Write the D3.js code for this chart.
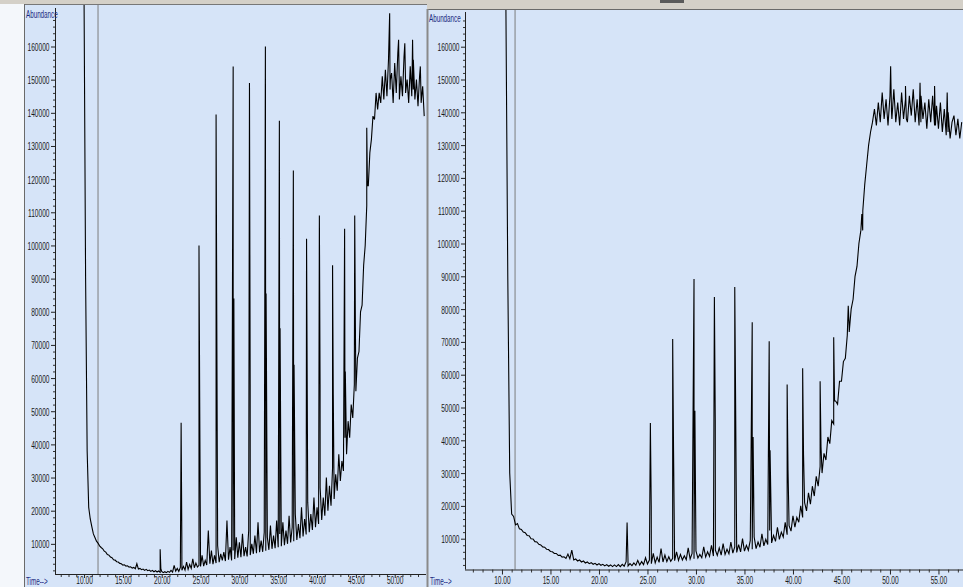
<!DOCTYPE html>
<html><head><meta charset="utf-8">
<script src="https://cdn.jsdelivr.net/npm/d3@7"></script>
<style>html,body{margin:0;padding:0;background:#f4f7fb;overflow:hidden}</style>
</head><body><svg id="c" width="963" height="587"></svg>
<script>
// ---------- DATA (abundance in thousands, time in minutes) ----------
const sampleStep = 0.2;
const leftStart = 10.0;
const leftValues = [
 175, 90, 38, 21, 17.5, 15.2, 13.0, 11.9, 10.8, 10.2,
 9.4, 8.9, 8.5, 7.8, 7.5, 6.8, 6.6, 6.0, 5.8, 5.2,
 5.1, 4.6, 4.5, 4.1, 4.0, 3.6, 3.7, 3.3, 3.4, 3.0,
 3.1, 2.7, 2.9, 2.5, 4.0, 2.4, 2.6, 2.2, 2.4, 2.0,
 2.3, 1.9, 2.1, 1.7, 2.0, 1.6, 1.9, 1.5, 1.8, 1.4,
 1.7, 1.3, 1.6, 1.3, 1.7, 1.4, 2.0, 1.5, 3.5, 1.8,
 2.6, 1.7, 2.9, 2.0, 3.2, 2.1, 4.5, 2.3, 3.8, 2.6,
 5.5, 2.8, 4.2, 3.0, 3.5, 3.2, 6.5, 3.3, 5.0, 3.6,
 14.0, 4.0, 8.0, 3.9, 6.5, 4.2, 9.5, 4.5, 7.0, 5.0,
 7.5, 4.8, 17.0, 5.2, 9.0, 5.0, 8.0, 5.4, 12.0, 5.8,
 10.5, 6.0, 13.0, 6.3, 9.0, 6.2, 14.0, 6.6, 10.0, 7.0,
 12.5, 7.2, 16.5, 7.5, 11.0, 7.6, 13.5, 7.9, 12.0, 8.2,
 15.5, 8.5, 12.5, 8.7, 17.0, 9.0, 13.0, 9.3, 16.5, 9.6,
 14.0, 10.0, 18.5, 10.4, 15.0, 10.8, 19.0, 11.2, 16.0, 11.7,
 21.0, 12.2, 17.5, 12.8, 22.5, 13.5, 19.0, 14.2, 24.0, 15.0,
 21.0, 16.0, 27.0, 17.2, 24.0, 18.5, 30.0, 20.0, 27.5, 21.5,
 33.0, 23.5, 31.0, 26.0, 37.0, 29.0, 35.0, 32.0, 42.0, 37.0,
 47.0, 42.0, 52.0, 48.0, 58.0, 56.0, 66.0, 68.0, 80.0, 82.0,
 94, 100, 112, 118, 128, 132, 139, 138, 146, 141,
 146, 143, 151, 144, 153, 145, 156, 147, 152, 143,
 155, 146, 158, 144, 151, 145, 157, 146, 150, 143,
 154, 145, 156, 144, 150, 142, 151, 143, 148, 139
];
// [time, apex, neighbour sample]
const leftPeaks = [
 [19.8, 8.4, 2.5], [22.5, 46.5, 12], [24.8, 100, 54], [27.0, 139.5, 79],
 [29.2, 154, 84], [31.3, 149, 58], [33.35, 160, 85.5], [35.15, 137.6, 75],
 [36.95, 122.6, 64], [38.65, 102, 55], [40.3, 109, 58], [42.0, 94, 55],
 [43.55, 105, 62], [44.85, 109, 75], [46.4, 135.5, 118],
 [49.35, 170, 150], [50.5, 162, 148], [51.3, 161, 150], [52.3, 162, 147], [53.3, 154, 145]
];
const leftCursor = [11.8];

const rightStart = 10.4;
const rightValues = [
 175, 90, 30, 17.5, 16.8, 14.2, 14.6, 13.0, 12.8, 12.0,
 11.8, 11.0, 10.9, 10.0, 9.9, 9.1, 9.0, 8.3, 8.1, 7.5,
 7.4, 6.8, 6.7, 6.1, 6.0, 5.5, 5.5, 4.9, 5.0, 4.4,
 4.5, 4.0, 5.3, 3.9, 6.5, 3.5, 3.8, 3.2, 3.5, 2.9,
 3.2, 2.6, 2.9, 2.4, 2.7, 2.2, 2.5, 2.0, 2.4, 1.9,
 2.2, 1.7, 2.1, 1.6, 2.0, 1.5, 2.0, 1.5, 2.1, 1.5,
 2.2, 1.6, 3.0, 1.7, 2.4, 1.8, 2.6, 1.9, 3.4, 2.0,
 3.0, 2.1, 4.2, 2.3, 3.5, 2.4, 5.5, 2.6, 4.4, 2.8,
 7.0, 2.9, 5.0, 3.0, 4.5, 3.1, 4.0, 3.3, 6.0, 3.4,
 5.2, 3.5, 4.8, 3.6, 7.2, 3.8, 5.5, 3.9, 6.3, 4.1,
 5.2, 4.2, 7.5, 4.4, 6.0, 4.6, 8.0, 4.7, 6.5, 4.9,
 7.2, 5.0, 8.5, 5.2, 6.8, 5.4, 9.0, 5.6, 7.5, 5.8,
 8.2, 6.0, 10.0, 6.2, 8.0, 6.5, 9.5, 6.8, 10.5, 7.0,
 9.0, 7.4, 11.5, 7.8, 9.8, 8.2, 12.5, 8.7, 11.0, 9.2,
 13.5, 9.8, 12.0, 10.5, 15.0, 11.2, 14.0, 12.3, 17.0, 13.5,
 16.5, 15.0, 20.0, 16.5, 21.0, 18.5, 24.0, 20.5, 26.0, 23.0,
 29.0, 26.0, 32.0, 30.0, 36.0, 34.0, 41.0, 39.0, 46.0, 45.0,
 52, 51, 58, 58, 64, 65, 72, 73, 80, 83,
 90, 93, 100, 104, 110, 118, 124, 130, 134, 137,
 141, 136, 143, 137, 146, 138, 144, 136, 145, 138,
 147, 137, 143, 136, 146, 138, 144, 137, 145, 139,
 147, 137, 144, 136, 145, 138, 143, 135, 144, 137,
 145, 136, 142, 135, 143, 134, 141, 133, 140, 132,
 137, 139, 133, 138, 132, 137
];
const rightPeaks = [
 [22.9, 14.9, 4], [25.3, 45.3, 20], [27.6, 70.9, 37], [29.8, 89.2, 49],
 [31.9, 83.7, 46], [34.0, 86.7, 51], [35.8, 76, 41], [37.55, 70.2, 37],
 [39.4, 57, 31], [41.0, 62, 35.5], [42.8, 58, 38], [44.2, 71.4, 52],
 [45.7, 81, 75], [47.1, 109, 104],
 [50.07, 154, 140], [51.6, 148, 138], [53.1, 149, 137], [54.6, 148, 136], [55.9, 146, 134]
];
const rightCursor = [11.35];

const leftTimeTicks = [10, 15, 20, 25, 30, 35, 40, 45, 50];
const rightTimeTicks = [10, 15, 20, 25, 30, 35, 40, 45, 50, 55];
const abundanceTicks = [10, 20, 30, 40, 50, 60, 70, 80, 90, 100, 110, 120, 130, 140, 150, 160];

// ---------- LAYOUT ----------
const svg = d3.select('#c');
const BG = '#d6e4f8';
const FONT = '"Liberation Sans", Arial, sans-serif';

svg.append('rect').attr('x',0).attr('y',0).attr('width',963).attr('height',587).attr('fill','#f4f7fb');
svg.append('rect').attr('x',0).attr('y',0).attr('width',963).attr('height',4).attr('fill','#d4d0c8');
svg.append('rect').attr('x',24).attr('y',4).attr('width',403).attr('height',583).attr('fill',BG);
svg.append('rect').attr('x',427).attr('y',0).attr('width',536).attr('height',9).attr('fill','#d4d0c8');
svg.append('rect').attr('x',427).attr('y',10).attr('width',536).attr('height',577).attr('fill',BG);
svg.append('line').attr('x1',24).attr('x2',427).attr('y1',4.5).attr('y2',4.5).attr('stroke','#777');
svg.append('line').attr('x1',24.5).attr('x2',24.5).attr('y1',4).attr('y2',587).attr('stroke','#6a6a6a');
svg.append('line').attr('x1',427).attr('x2',963).attr('y1',9.5).attr('y2',9.5).attr('stroke','#6a6a6a');
svg.append('line').attr('x1',427.5).attr('x2',427.5).attr('y1',9).attr('y2',587).attr('stroke','#8a8a8a').attr('stroke-width',2);
svg.append('rect').attr('x',660).attr('y',0).attr('width',24).attr('height',3).attr('fill','#5a5a5a');

function panel(cfg){
  const g = svg.append('g');
  const x = d3.scaleLinear().domain(cfg.tDomain).range([cfg.left, cfg.right]);
  const y = d3.scaleLinear().domain([0,160]).range([cfg.yZero, cfg.y160]);
  const id = 'clip'+cfg.name;
  svg.append('clipPath').attr('id',id).append('rect')
     .attr('x',cfg.left+0.5).attr('y',cfg.top).attr('width',cfg.right-cfg.left).attr('height',cfg.axisY-cfg.top-0.5);

  g.selectAll('.cur').data(cfg.cursor).join('line')
    .attr('x1',d=>x(d)).attr('x2',d=>x(d)).attr('y1',cfg.top).attr('y2',cfg.axisY)
    .attr('stroke','#7d7d7d').attr('stroke-width',1);

  const pts = cfg.values.map((v,i)=>({t: cfg.start + i*sampleStep, v}));
  cfg.peaks.forEach(p=>{ pts.push({t:p[0], v:p[1]}); pts.push({t:p[0]+0.09, v:p[2]}); });
  pts.sort((a,b)=>a.t-b.t);
  const line = d3.line().x(d=>x(d.t)).y(d=>y(d.v));
  g.append('path').datum(pts).attr('d',line).attr('fill','none')
    .attr('stroke','#000').attr('stroke-width',1.1).attr('stroke-linejoin','miter')
    .attr('clip-path',`url(#${id})`);

  const minor = d3.range(2,171,2).filter(v=>v%10!==0 && y(v) > cfg.top+2);
  const yMinor = g.append('g').attr('transform',`translate(${cfg.left},0)`)
    .call(d3.axisLeft(y).tickValues(minor).tickSize(2).tickFormat(''));
  yMinor.select('.domain').remove();
  yMinor.selectAll('line').attr('stroke','#333');
  const yAx = g.append('g').attr('transform',`translate(${cfg.left},0)`)
    .call(d3.axisLeft(y).tickValues(abundanceTicks).tickSize(4).tickFormat(d=>d*1000));
  yAx.select('.domain').remove();
  yAx.selectAll('line').attr('stroke','#222');
  yAx.selectAll('text').attr('font-family',FONT).attr('font-size',11).attr('fill','#1a1a1a')
     .attr('x',-5.5/0.6).attr('transform','scale(0.6,1)').attr('dy','0.36em');

  const tMinor = d3.range(Math.ceil(cfg.tDomain[0]), cfg.tDomain[1], 1).filter(t=>t%5!==0);
  const xMinor = g.append('g').attr('transform',`translate(0,${cfg.axisY})`)
    .call(d3.axisBottom(x).tickValues(tMinor).tickSize(3).tickFormat(''));
  xMinor.select('.domain').remove();
  xMinor.selectAll('line').attr('stroke','#333');
  const xAx = g.append('g').attr('transform',`translate(0,${cfg.axisY})`)
    .call(d3.axisBottom(x).tickValues(cfg.timeTicks).tickSize(cfg.majorTick).tickPadding(cfg.labelPad).tickFormat(d3.format('.2f')));
  xAx.select('.domain').remove();
  xAx.selectAll('line').attr('stroke','#222');
  xAx.selectAll('text').attr('font-family',FONT).attr('font-size',11).attr('fill','#1a1a1a')
     .attr('transform','scale(0.6,1)');

  g.append('line').attr('x1',cfg.left+0.5).attr('x2',cfg.left+0.5).attr('y1',cfg.axisTop).attr('y2',cfg.axisY)
    .attr('stroke','#222');
  g.append('line').attr('x1',cfg.left).attr('x2',cfg.right+1).attr('y1',cfg.axisY+0.5).attr('y2',cfg.axisY+0.5)
    .attr('stroke','#222');

  g.append('text').attr('transform',`translate(${cfg.absX},${cfg.absY}) scale(0.57,1)`)
    .attr('font-family',FONT).attr('font-size',11).attr('fill','#1a2a80').text('Abundance');
  g.append('text').attr('transform',`translate(${cfg.timeX},${cfg.timeY}) scale(0.63,1)`)
    .attr('font-family',FONT).attr('font-size',10).attr('fill','#1a2a80').text('Time-->');
}

panel({name:'L', tDomain:[6.26,53.9], left:55, right:425, top:5, axisTop:8, axisY:574,
       yZero:577, y160:46.5, start:leftStart, values:leftValues, peaks:leftPeaks, cursor:leftCursor,
       timeTicks:leftTimeTicks, majorTick:4, labelPad:-1.5, absX:26, absY:18, timeX:26, timeY:585});
panel({name:'R', tDomain:[6.19,57.53], left:465, right:963, top:10, axisTop:12, axisY:569.5,
       yZero:571.5, y160:46.7, start:rightStart, values:rightValues, peaks:rightPeaks, cursor:rightCursor,
       timeTicks:rightTimeTicks, majorTick:5, labelPad:2, absX:429, absY:22, timeX:430, timeY:585});
</script></body></html>
